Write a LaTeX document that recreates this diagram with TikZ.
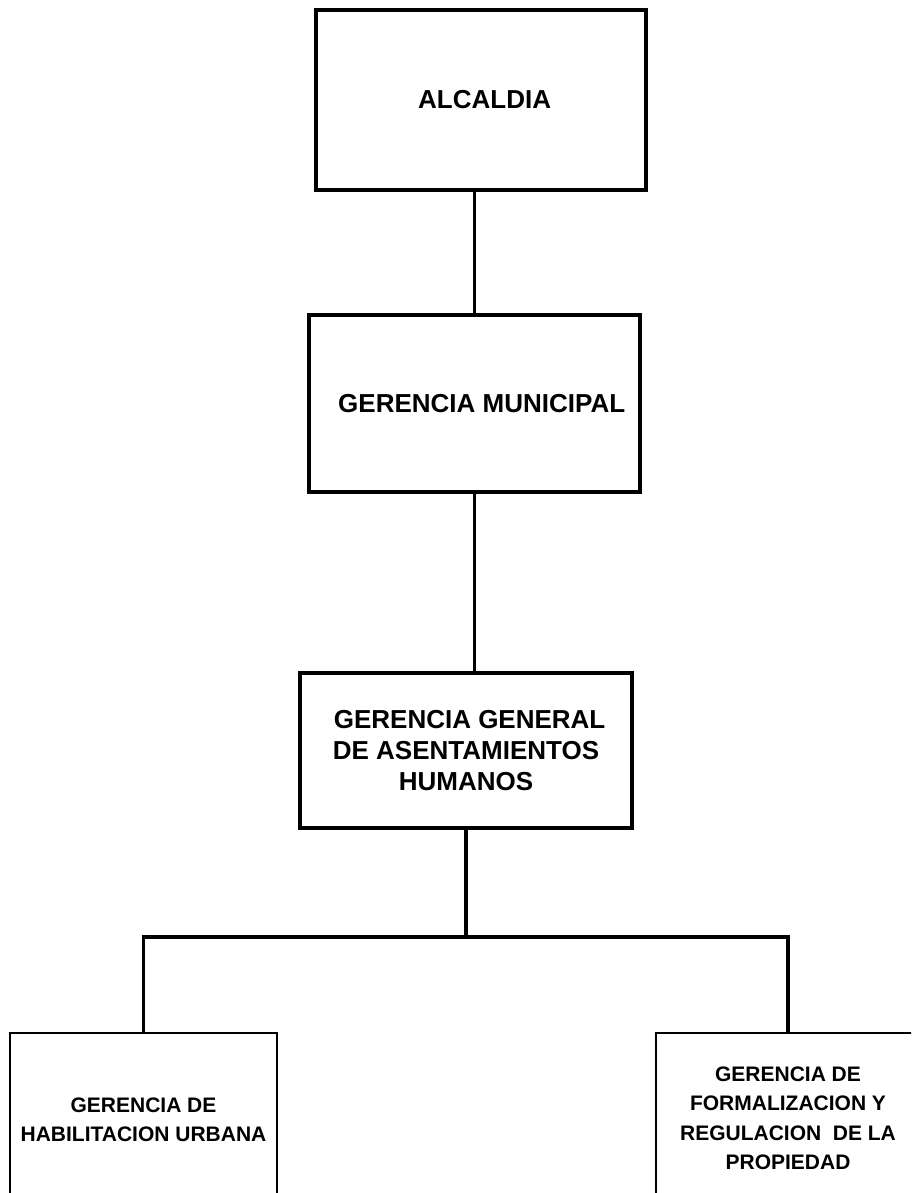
\documentclass[tikz,border=0pt]{standalone}
\usepackage{fontspec}
\setmainfont{Liberation Sans}

\tikzset{
    bigbox/.style={rectangle, draw, line width=3.5pt, align=center, font=\fontsize{26}{31}\selectfont\bfseries},
    smallbox/.style={rectangle, draw, line width=2pt, align=center, font=\fontsize{21}{29.5}\selectfont\bfseries},
    link/.style={-, line width=3.5pt}
}

\begin{document}
\begin{tikzpicture}[x=1pt, y=-1pt]
            \useasboundingbox (0, 0) rectangle (911, 1193);
            \clip (0, 0) rectangle (911, 1193);

            \node[bigbox, minimum width=330pt, minimum height=180pt] (alcaldia) at ( 481 , 100 ) {\ ALCALDIA};
            \node[bigbox, minimum width=331pt, minimum height=177pt] (gerMun) at ( 474.5 , 403.5 ) {\ \ GERENCIA MUNICIPAL};
            \node[bigbox, minimum width=332pt, minimum height=155pt] (gerGen) at ( 466 , 750.5 ) {\ GERENCIA GENERAL\\DE ASENTAMIENTOS\\HUMANOS};

            \node[smallbox, minimum width=267pt, minimum height=174pt] (habUrb) at ( 143.5 , 1120 ) {GERENCIA DE\\HABILITACION URBANA};
            \node[smallbox, minimum width=264pt, minimum height=171pt] (formReg) at ( 788 , 1118.5 ) {GERENCIA DE\\FORMALIZACION Y\\REGULACION \ DE LA\\PROPIEDAD};

            \coordinate (bus) at ( 466 , 937 );

            \draw[link] (gerMun.north |- alcaldia.south) -- (gerMun.north);
            \draw[link] (gerMun.south) -- (gerMun.south |- gerGen.north);
            \draw[link] (gerGen.south) -- (bus);
            \draw[link] (habUrb.north) -- (habUrb.north |- bus) -- (formReg.north |- bus) -- (formReg.north);
\end{tikzpicture}
\end{document}
